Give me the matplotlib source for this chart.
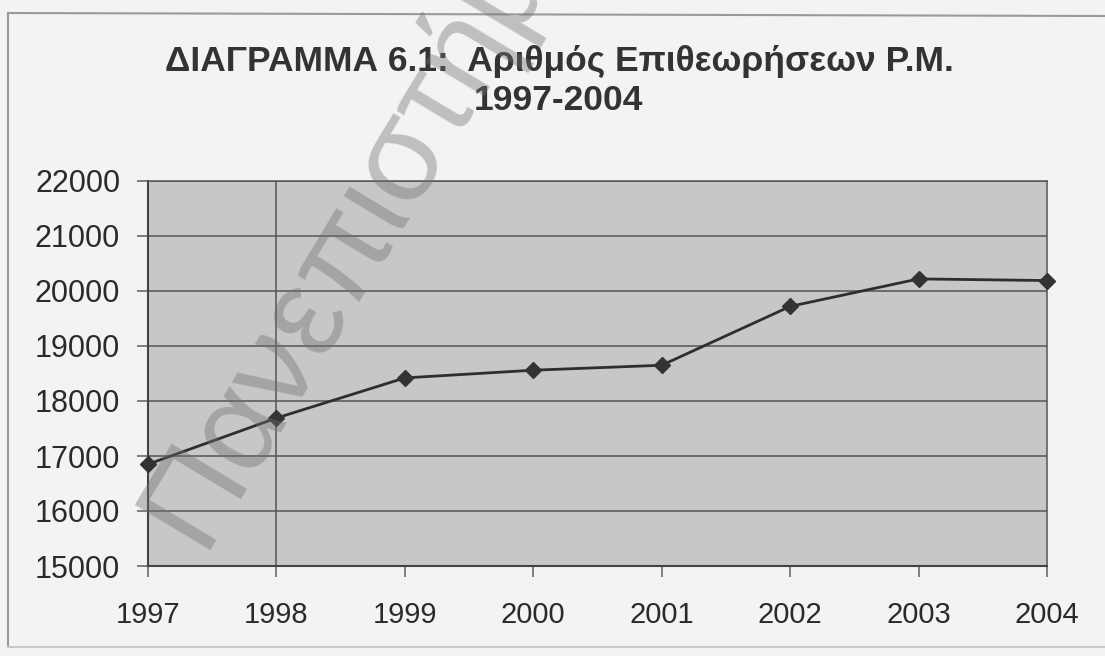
import matplotlib.pyplot as plt
from matplotlib.lines import Line2D

# data
years = [1997, 1998, 1999, 2000, 2001, 2002, 2003, 2004]
inspections = [16850, 17690, 18420, 18560, 18650, 19720, 20220, 20190]
y_ticks = [15000, 16000, 17000, 18000, 19000, 20000, 21000, 22000]

plt.rcParams['font.family'] = ['Liberation Sans', 'DejaVu Sans']

fig = plt.figure(figsize=(11.05, 6.56), dpi=100)
fig.patch.set_facecolor('#f3f3f3')

# plaisio tou diagrammatos (scan)
fig.add_artist(Line2D([8/1105, 8/1105], [1 - 647/656, 1 - 13/656], color='#9a9a9a', lw=1.5))
fig.add_artist(Line2D([8/1105, 1.0], [1 - 13/656, 1 - 16/656], color='#9a9a9a', lw=1.5))
fig.add_artist(Line2D([8/1105, 1.0], [1 - 647/656, 1 - 647/656], color='#c8c8c8', lw=1.5))

ax = fig.add_axes([148/1105, 1 - 566/656, (1047 - 148)/1105, (566 - 181)/656])
ax.set_facecolor('#c7c7c7')

# grammes plegmatos
for v in y_ticks:
    ax.axhline(v, color='#555555', lw=1.1, zorder=1)
ax.axvline(1998, color='#555555', lw=1.1, zorder=1)

ax.plot(years, inspections, color='#2e2e2e', lw=2, marker='D', markersize=8,
        markerfacecolor='#333333', markeredgecolor='#333333', zorder=3, clip_on=False)

ax.set_xlim(1997, 2004)
ax.set_ylim(15000, 22000)
ax.set_xticks(years)
ax.set_xticklabels([str(y) for y in years])
ax.set_yticks(y_ticks)
ax.set_yticklabels([str(v) for v in y_ticks])

ax.tick_params(axis='both', colors='#6a6a6a', labelcolor='#2a2a2a', length=8, width=1.2)
ax.tick_params(axis='x', labelsize=21, pad=17)
ax.tick_params(axis='y', labelsize=22, pad=12)

for side in ['left', 'bottom']:
    ax.spines[side].set_color('#444444')
    ax.spines[side].set_linewidth(1.5)
for side in ['right', 'top']:
    ax.spines[side].set_color('#555555')
    ax.spines[side].set_linewidth(1.1)

# titlos
fig.text(559/1105, 1 - 62/656, 'ΔΙΑΓΡΑΜΜΑ 6.1:  Αριθμός Επιθεωρήσεων Ρ.Μ.', ha='center', va='center',
         fontsize=25.5, fontweight='bold', color='#333333')
fig.text(559/1105, 1 - 100/656, '1997-2004', ha='center', va='center',
         fontsize=25.5, fontweight='bold', color='#333333')

# ydatografima (watermark)
fig.text(200/1105, 1 - 550/656, 'Πανεπιστήμιο', ha='left', va='baseline', rotation=59,
         rotation_mode='anchor', fontsize=92, color='#707070', alpha=0.4, zorder=10)

fig.savefig('out.png', dpi=100, facecolor=fig.get_facecolor())
